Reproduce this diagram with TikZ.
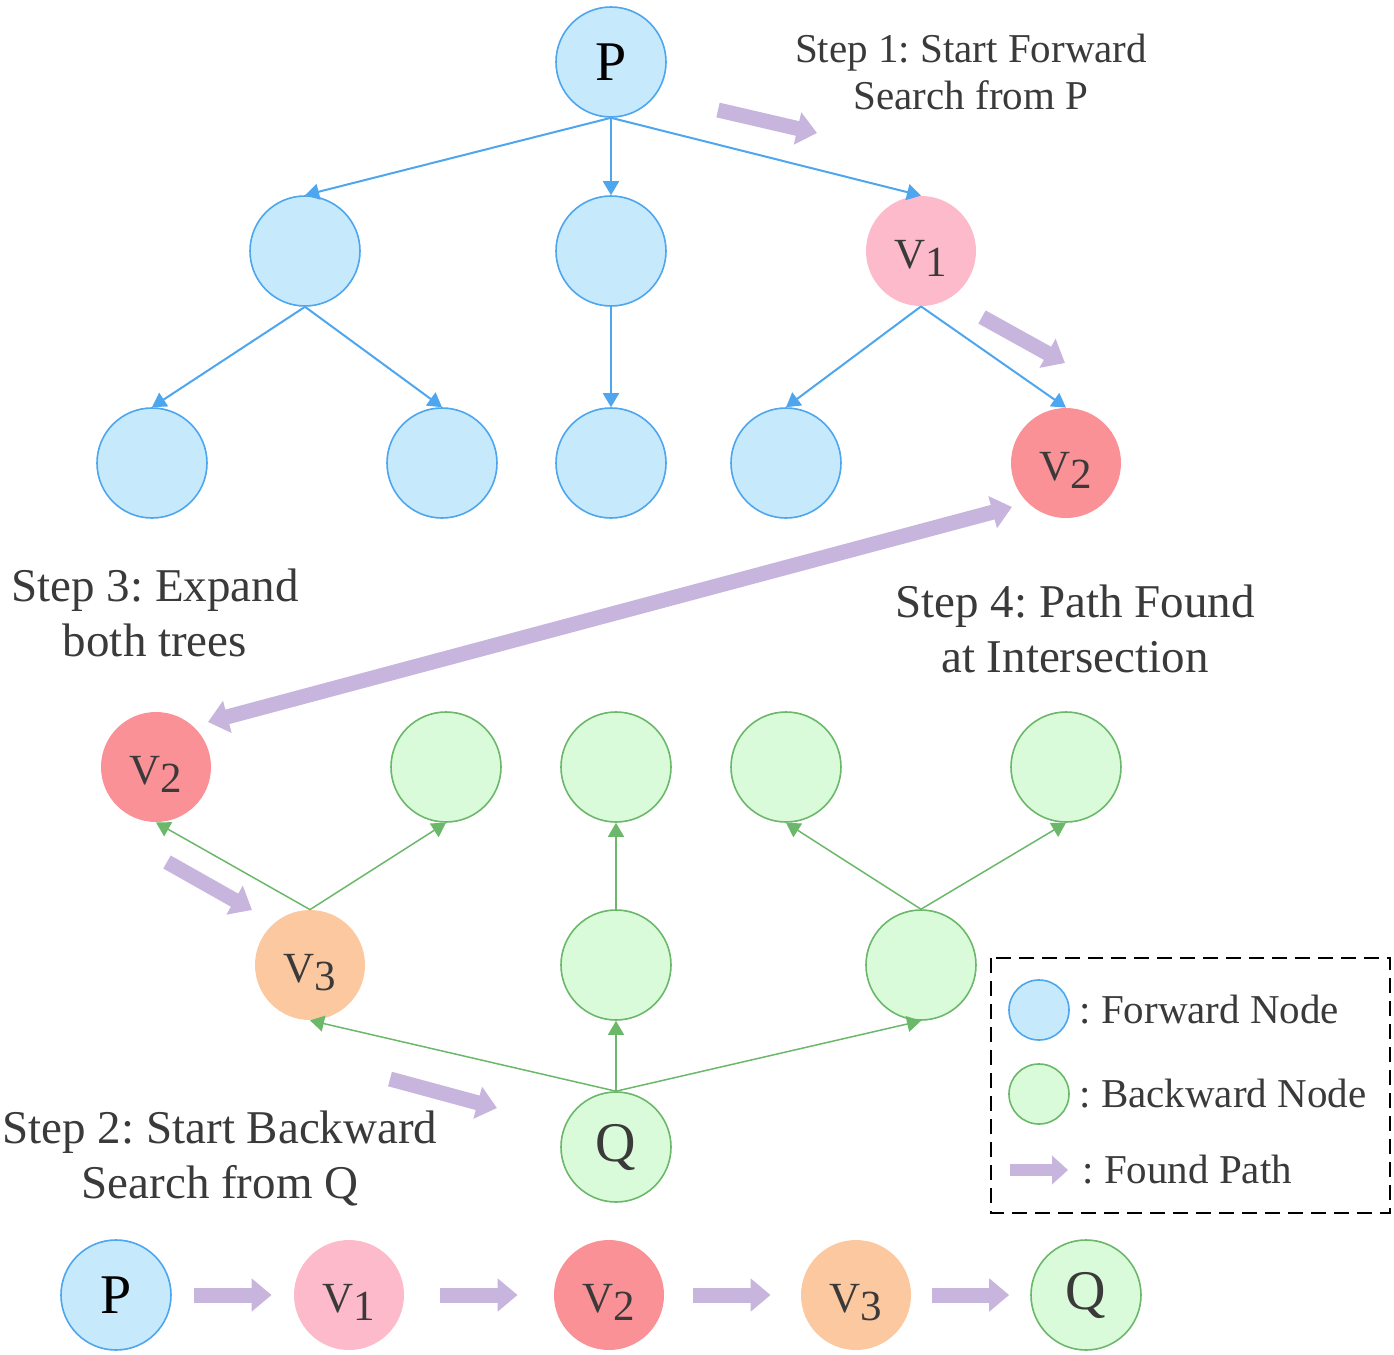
\documentclass[tikz,border=0pt]{standalone}
\usepackage{fontspec}
\setmainfont{Liberation Serif}
\usetikzlibrary{arrows.meta}
\definecolor{fwdfill}{HTML}{C6E9FB}
\definecolor{fwdline}{HTML}{4DA6EE}
\definecolor{bwdfill}{HTML}{DAFBDA}
\definecolor{bwdline}{HTML}{6BB86B}
\definecolor{vonecol}{HTML}{FDBACB}
\definecolor{vtwocol}{HTML}{FA9196}
\definecolor{vthreecol}{HTML}{FCC8A0}
\definecolor{purp}{HTML}{C7B5DE}
\definecolor{labcol}{HTML}{3A3A3A}
\newcommand{\vlab}[1]{V\raisebox{-4pt}{#1}\rule{0pt}{21.6pt}}
\frenchspacing
\begin{document}
\begin{tikzpicture}[x=0.5pt,y=-0.5pt,
  base/.style={circle, minimum size=55pt, inner sep=0pt, text=labcol},
  fnode/.style={base, draw=fwdline, fill=fwdfill, line width=0.8pt},
  bnode/.style={base, draw=bwdline, fill=bwdfill, line width=0.8pt},
  vone/.style={base, fill=vonecol},
  vtwo/.style={base, fill=vtwocol},
  vthree/.style={base, fill=vthreecol},
  big/.style={font=\fontsize{28}{30}\selectfont},
  vfont/.style={font=\fontsize{21.5}{24}\selectfont},
  fedge/.style={draw=fwdline, line width=1pt, -{Triangle[length=7pt,width=8pt]}},
  bedge/.style={draw=bwdline, line width=0.75pt, -{Triangle[length=7pt,width=8pt]}},
  parrow/.style={draw=purp, line width=7.5pt, -{Triangle[length=10pt,width=16pt]}},
  steptext/.style={align=center, text=labcol, font=\fontsize{23.5}{27.5}\selectfont},
  stepone/.style={align=center, text=labcol, font=\fontsize{20.5}{23.5}\selectfont},
  legtext/.style={anchor=west, text=labcol, font=\fontsize{20.5}{23.5}\selectfont, inner sep=0pt}
]
\useasboundingbox (0,0) rectangle (1394,1355);

% forward tree
\node[fnode,big,text=black] (P) at (611,62) {P};
\node[fnode] (f1) at (305,251) {};
\node[fnode] (f2) at (611,251) {};
\node[vone,vfont] (V1) at (921,251) {\vlab{1}};
\node[fnode] (f11) at (152,463) {};
\node[fnode] (f12) at (442,463) {};
\node[fnode] (f21) at (611,463) {};
\node[fnode] (f31) at (786,463) {};
\node[vtwo,vfont] (V2a) at (1066,463) {\vlab{2}};

\draw[fedge] (P.south) -- (f1.north);
\draw[fedge] (P.south) -- (f2.north);
\draw[fedge] (P.south) -- (V1.north);
\draw[fedge] (f1.south) -- (f11.north);
\draw[fedge] (f1.south) -- (f12.north);
\draw[fedge] (f2.south) -- (f21.north);
\draw[fedge] (V1.south) -- (f31.north);
\draw[fedge] (V1.south) -- (V2a.north);

% backward tree
\node[vtwo,vfont] (V2b) at (156,767) {\vlab{2}};
\node[bnode] (b12) at (446,767) {};
\node[bnode] (b21) at (616,767) {};
\node[bnode] (b31) at (786,767) {};
\node[bnode] (b32) at (1066,767) {};
\node[vthree,vfont] (V3) at (310,965) {\vlab{3}};
\node[bnode] (b2) at (616,965) {};
\node[bnode] (b3) at (921,965) {};
\node[bnode,big] (Q) at (616,1147) {Q};

\draw[bedge] (Q.north) -- (V3.south);
\draw[bedge] (Q.north) -- (b2.south);
\draw[bedge] (Q.north) -- (b3.south);
\draw[bedge] (V3.north) -- (V2b.south);
\draw[bedge] (V3.north) -- (b12.south);
\draw[bedge] (b2.north) -- (b21.south);
\draw[bedge] (b3.north) -- (b31.south);
\draw[bedge] (b3.north) -- (b32.south);

% step arrows
\coordinate (a1s) at (718,110); \coordinate (a1e) at (817,133);
\coordinate (a2s) at (982,317); \coordinate (a2e) at (1065,363);
\coordinate (a3s) at (1012,507); \coordinate (a3e) at (208,722);
\coordinate (a4s) at (167,862); \coordinate (a4e) at (252,910);
\coordinate (a5s) at (390,1079); \coordinate (a5e) at (497,1108);
\draw[parrow] (a1s) -- (a1e);
\draw[parrow] (a2s) -- (a2e);
\draw[parrow, {Triangle[length=10pt,width=16pt]}-{Triangle[length=10pt,width=16pt]}] (a3s) -- (a3e);
\draw[parrow] (a4s) -- (a4e);
\draw[parrow] (a5s) -- (a5e);

% step texts
\node[stepone] (s1) at (971,72) {Step 1: Start Forward\\Search from P};
\node[steptext] (s3) at (155,613) {Step 3: Expand\\both trees};
\node[steptext] (s4) at (1075,629) {Step 4: Path Found\\at Intersection};
\node[steptext] (s2) at (220,1158) {Step 2: Start Backward\\Search from Q};

% legend
\draw[black, line width=0.8pt, dash pattern=on 7.5pt off 4pt] (991,958) rectangle (1390,1213);
\node[fnode, minimum size=30pt] (lf) at (1039,1010) {};
\node[bnode, minimum size=30pt] (lb) at (1039,1094) {};
\coordinate (lps) at (1010,1170); \coordinate (lpe) at (1068,1170);
\draw[parrow, line width=6pt, -{Triangle[length=8pt,width=14pt]}] (lps) -- (lpe);
\node[legtext] (lft) at (1079,1010) {: Forward Node};
\node[legtext] (lbt) at (1079,1094) {: Backward Node};
\node[legtext] (lpt) at (1082,1170) {: Found Path};

% bottom path
\node[fnode,big,text=black] (pP) at (116,1295) {P};
\node[vone,vfont] (pV1) at (349,1295) {\vlab{1}};
\node[vtwo,vfont] (pV2) at (609,1295) {\vlab{2}};
\node[vthree,vfont] (pV3) at (856,1295) {\vlab{3}};
\node[bnode,big] (pQ) at (1086,1295) {Q};
\draw[parrow, shorten <=11pt, shorten >=11pt] (pP) -- (pV1);
\draw[parrow, shorten <=18pt, shorten >=18pt] (pV1) -- (pV2);
\draw[parrow, shorten <=14.5pt, shorten >=15pt] (pV2) -- (pV3);
\draw[parrow, shorten <=10.5pt, shorten >=10.5pt] (pV3) -- (pQ);
\end{tikzpicture}
\end{document}
